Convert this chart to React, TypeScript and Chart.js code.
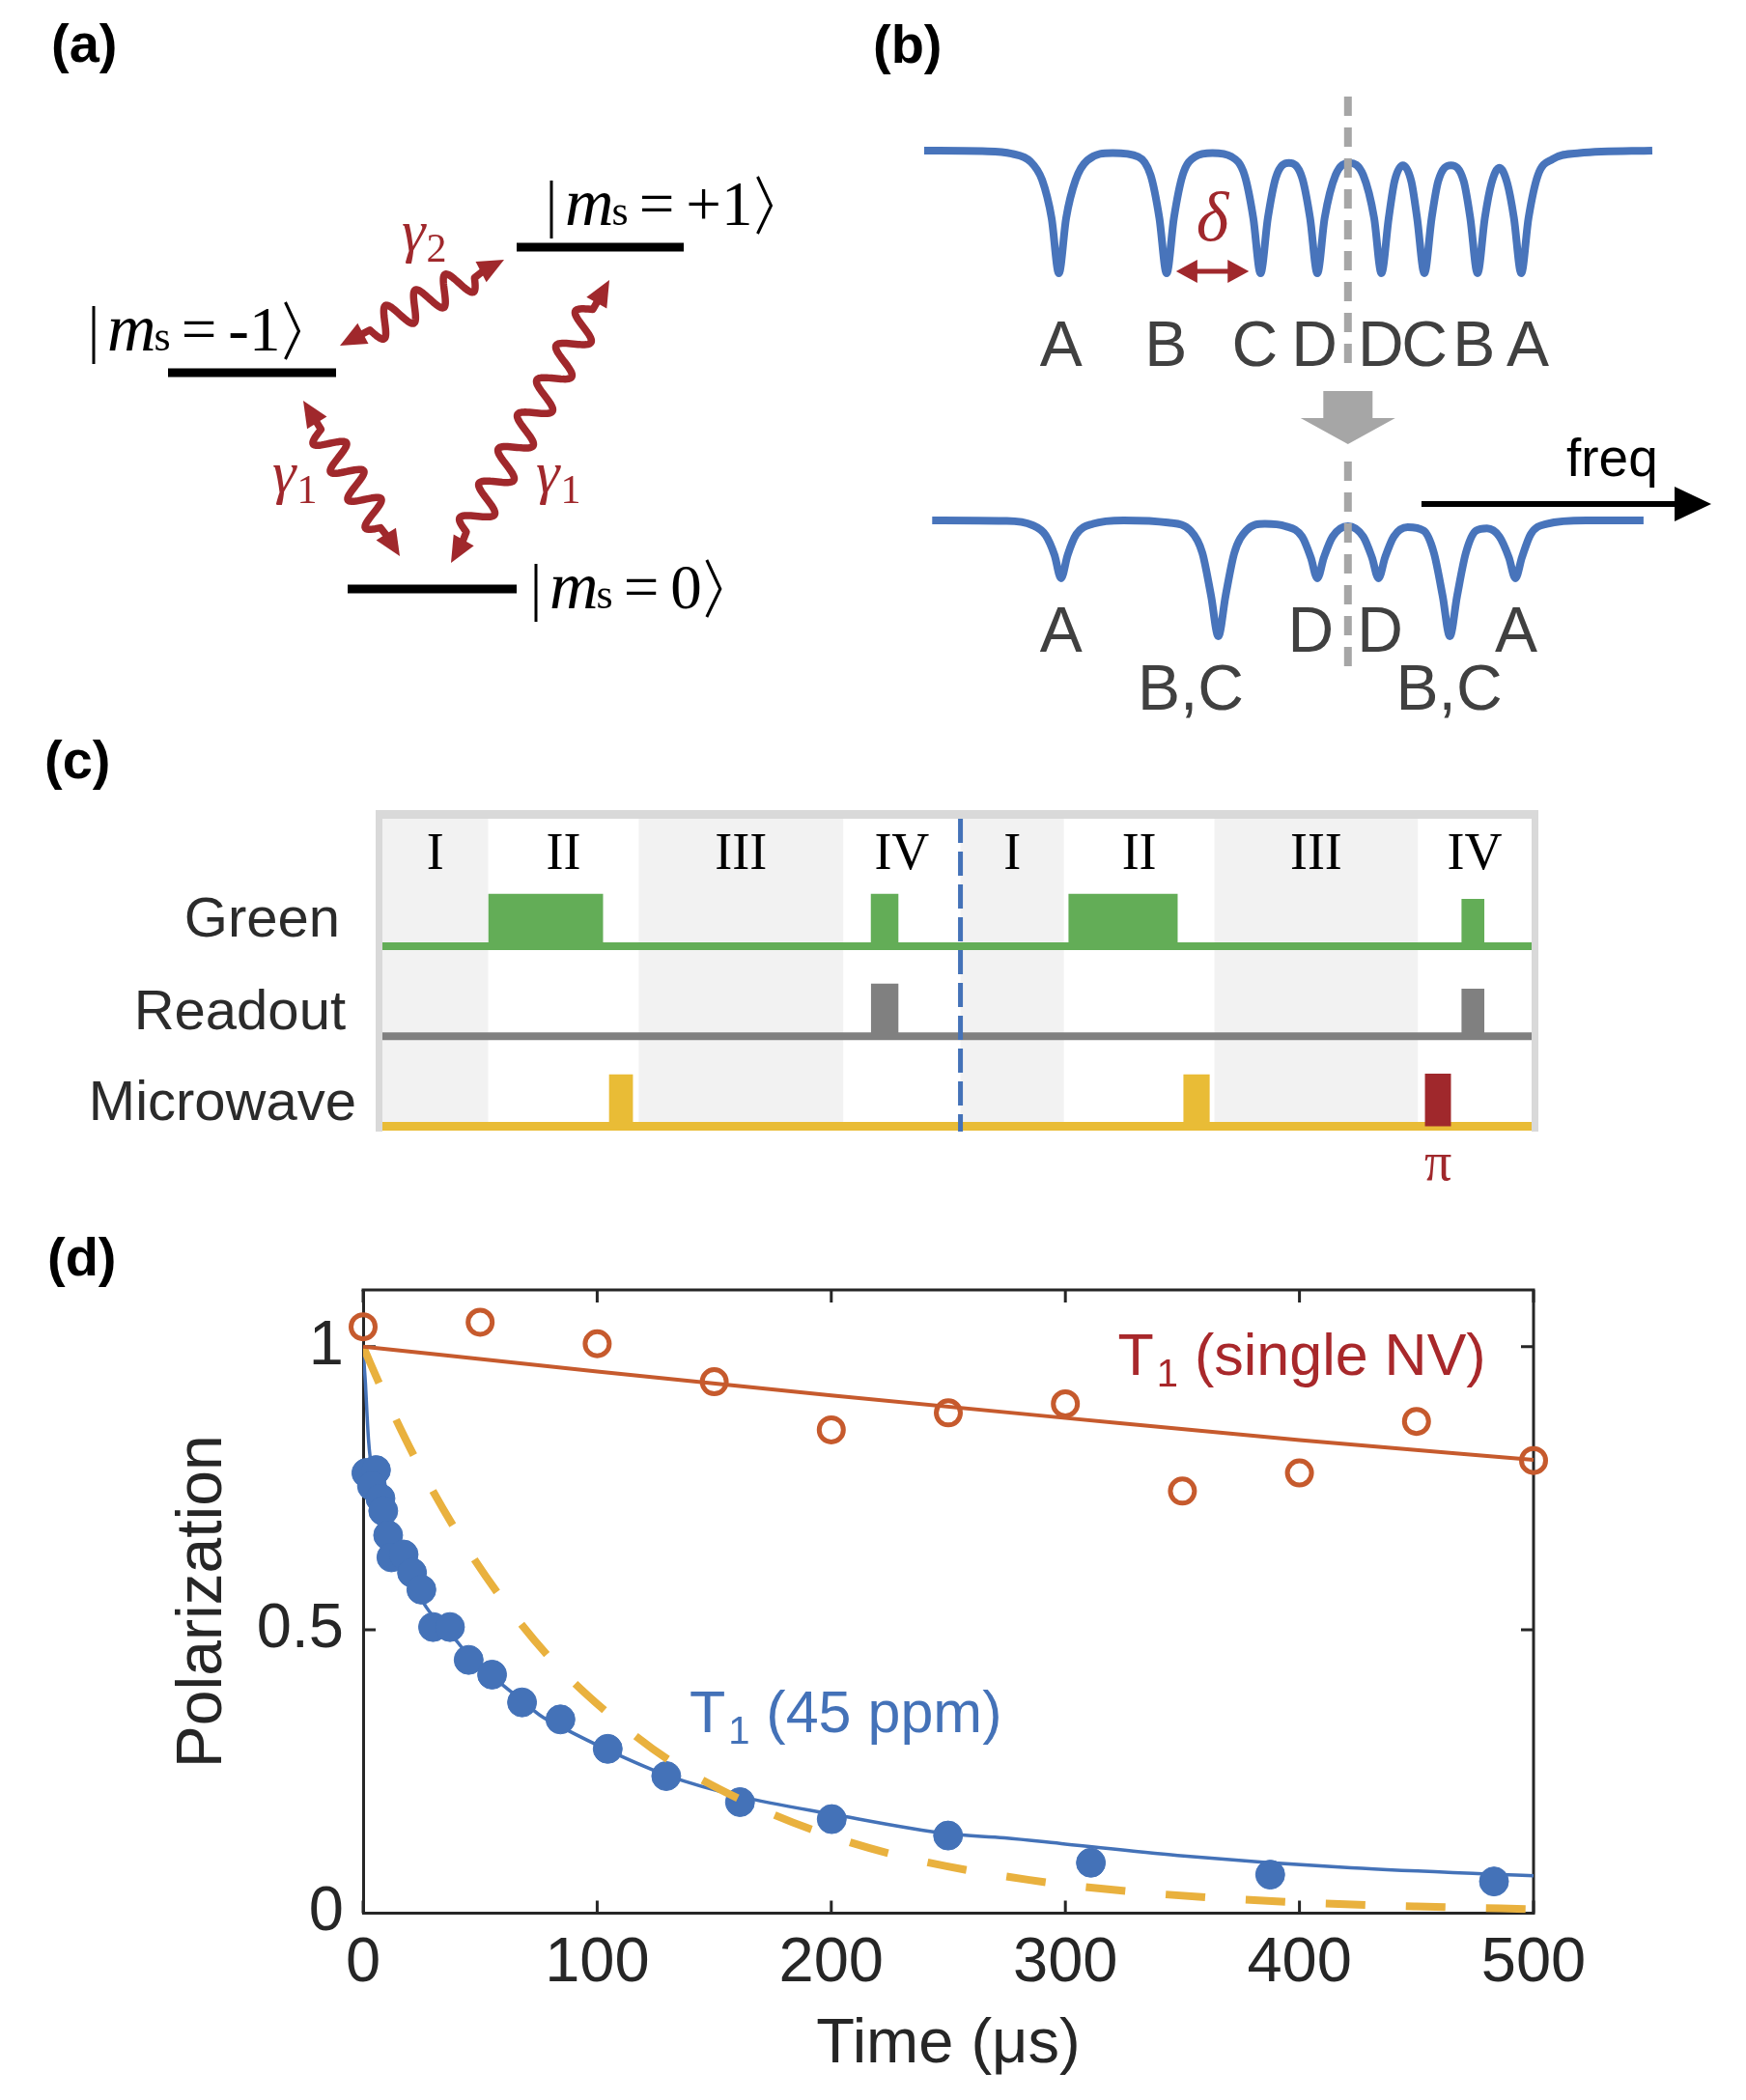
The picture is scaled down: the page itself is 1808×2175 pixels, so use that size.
import React, { useEffect, useRef } from 'react';
import { Chart, registerables } from 'chart.js';

Chart.register(...registerables);

const SANS = '"Liberation Sans", Arial, Helvetica, sans-serif';
const SERIF = '"Liberation Serif", "Times New Roman", Times, serif';

const BLUE = '#4472b8';
const TRACE_BLUE = '#4874bb';
const RED_MARK = '#c65a2d';
const RED_TEXT = '#a8282b';
const DARK_RED = '#a0282c';
const ORANGE = '#e9b13e';
const AXIS = '#262626';
const GREEN = '#63ad57';
const GREY_PULSE = '#808080';
const YELLOW = '#e9bc36';
const LIGHT_BAND = '#f2f2f2';
const FRAME = '#d9d9d9';
const ARROW_GREY = '#a6a6a6';
const LABEL_GREY = '#404040';

// ---------------- Panel (a): energy levels ----------------
const levelNames = ['-1', '+1', '0'];
const levelEnergy = [2.24, 3.54, 0];
const levelStart = [1.74, 5.35, 3.6];
const levelEnd = [3.48, 7.08, 5.35];
const transitionSub = ['2', '1', '1'];
const transStartX = [3.52, 3.14, 6.31];
const transStartE = [2.52, 1.95, 3.2];
const transEndX = [5.22, 4.14, 4.67];
const transEndE = [3.41, 0.34, 0.27];
const transWaves = [3.5, 3.5, 6.5];

// ---------------- Panel (b): spectra ----------------
const topTrace = [
  [0, 1.0], [8, 0.995], [12, 0.975], [14.6, 0.91], [16.2, 0.76], [17.5, 0.45], [18.5, 0.0], [19.5, 0.45], [20.8, 0.76], [22.4, 0.92],
  [25.9, 0.98], [29.4, 0.95], [31.1, 0.8], [32.3, 0.45], [33.3, 0.0], [34.3, 0.45], [35.5, 0.8], [37.2, 0.95], [39.6, 0.98],
  [42.2, 0.95], [44.0, 0.8], [45.2, 0.45], [46.2, 0.0], [47.2, 0.45], [48.3, 0.78], [50.1, 0.9], [51.9, 0.78], [53.0, 0.45],
  [54.0, 0.0], [55.0, 0.45], [56.5, 0.8], [58.4, 0.9], [60.3, 0.8], [61.8, 0.45], [62.8, 0.0], [63.8, 0.45], [64.6, 0.75],
  [65.75, 0.88], [66.9, 0.75], [67.7, 0.45], [68.7, 0.0], [69.7, 0.45], [70.6, 0.75], [72.35, 0.88], [74.1, 0.75], [75.0, 0.45],
  [76.0, 0.0], [77.0, 0.45], [77.9, 0.73], [79.0, 0.86], [80.1, 0.73], [81.0, 0.45], [82.0, 0.0], [83.0, 0.45], [84.3, 0.8],
  [86.3, 0.93], [90, 0.98], [100, 1.0],
];
const bottomTrace = [
  [1.1, 1.0], [11, 0.995], [14.8, 0.96], [16.7, 0.87], [17.9, 0.7], [18.8, 0.5], [19.7, 0.7], [20.9, 0.88], [23.2, 0.97],
  [27.4, 1.0], [33.5, 0.98], [36.6, 0.91], [38.2, 0.72], [39.4, 0.35], [40.4, 0.0], [41.4, 0.35], [42.6, 0.72], [44.2, 0.91],
  [46.8, 0.97], [49.6, 0.95], [51.9, 0.86], [53.1, 0.68], [54.0, 0.5], [54.9, 0.68], [56.1, 0.86], [58.2, 0.95], [60.3, 0.86],
  [61.5, 0.68], [62.4, 0.5], [63.3, 0.68], [64.5, 0.86], [66.4, 0.94], [68.6, 0.91], [70.0, 0.72], [71.2, 0.35], [72.2, 0.0],
  [73.2, 0.35], [74.4, 0.72], [75.8, 0.91], [77.3, 0.93], [79.0, 0.86], [80.3, 0.68], [81.2, 0.5], [82.1, 0.68], [83.3, 0.88],
  [85.5, 0.97], [90.9, 1.0], [98.8, 1.0],
];
const topLabels = ['A', 'B', 'C', 'D', 'D', 'C', 'B', 'A'];
const topLabelFreq = [18.8, 33.2, 45.4, 53.6, 62.7, 68.7, 75.5, 82.9];
const bottomLabels = ['A', 'B,C', 'D', 'D', 'B,C', 'A'];
const bottomLabelFreq = [18.8, 36.6, 53.1, 62.6, 72.1, 81.3];
const bottomLabelRow = [0, 1, 0, 0, 1, 0];
const centerFreq = 58.2;
const deltaFrom = 34.6;
const deltaTo = 44.6;

// ---------------- Panel (c): pulse sequence ----------------
const phaseEdges = [0, 9.2, 22.3, 40.1, 50.3, 59.3, 72.4, 90.1, 100];
const phaseNames = ['I', 'II', 'III', 'IV', 'I', 'II', 'III', 'IV'];
const channelNames = ['Green', 'Readout', 'Microwave'];
const channelBase = [59.1, 30.3, 1.4];
const greenPulseStart = [9.2, 42.5, 59.7, 93.9];
const greenPulseEnd = [19.2, 44.9, 69.2, 95.9];
const greenPulseTop = [75.9, 75.9, 75.9, 74.3];
const readoutPulseStart = [42.5, 93.9];
const readoutPulseEnd = [44.9, 95.9];
const readoutPulseTop = [47.1, 45.5];
const mwPulseStart = [19.7, 69.7];
const mwPulseEnd = [21.8, 72.0];
const mwPulseTop = [18.0, 18.0];
const piPulseStart = [90.7];
const piPulseEnd = [93.0];
const piPulseTop = [18.3];
const sequenceSplit = 50.3;

// ---------------- Panel (d): T1 relaxation ----------------
const singleNvTime = [0, 50, 100, 150, 200, 250, 300, 350, 400, 450, 500];
const singleNvPol = [1.035, 1.043, 1.005, 0.938, 0.853, 0.883, 0.899, 0.745, 0.777, 0.868, 0.799];
const singleNvFitTime = [0, 100, 200, 300, 400, 500];
const singleNvFitPol = [1.0, 0.956, 0.914, 0.874, 0.835, 0.8];
const ensembleTime = [1.4, 5.5, 3.8, 7.4, 8.6, 10.7, 12.1, 17.3, 20.9, 24.9, 29.9, 37.1, 45.1, 55.1, 67.9, 84.3, 104.5, 129.5, 161.0, 200.2, 249.9, 310.9, 387.5, 483.1];
const ensemblePol = [0.777, 0.782, 0.754, 0.732, 0.71, 0.667, 0.628, 0.633, 0.601, 0.571, 0.505, 0.505, 0.447, 0.421, 0.372, 0.342, 0.29, 0.242, 0.196, 0.166, 0.137, 0.089, 0.068, 0.056];
const ensembleFitTime = [0, 0.5, 1.0, 1.65, 2.3, 3.0, 4.5, 7, 10, 13, 17, 21, 27, 33, 39, 45, 52, 59, 68, 76, 84, 105, 130, 161, 200, 250, 274, 300, 348, 422, 500];
const ensembleFitPol = [1.0, 0.965, 0.935, 0.882, 0.836, 0.805, 0.77, 0.73, 0.69, 0.652, 0.615, 0.585, 0.54, 0.51, 0.485, 0.455, 0.43, 0.405, 0.375, 0.348, 0.33, 0.287, 0.243, 0.206, 0.175, 0.14, 0.133, 0.122, 0.102, 0.08, 0.066];
const expectedTime = [0, 8, 22, 39, 58, 79, 104, 130, 161, 192, 230, 284, 340, 400, 450, 500];
const expectedPol = [1.0, 0.925, 0.805, 0.68, 0.562, 0.454, 0.355, 0.272, 0.201, 0.147, 0.1, 0.059, 0.034, 0.019, 0.012, 0.007];
const xTickStep = 100;
const yTickValues = [0, 0.5, 1];

const zip = (xs: number[], ys: number[]) => xs.map((x, i) => ({ x, y: ys[i] }));
const pairs = (arr: number[][]) => arr.map(([x, y]) => ({ x, y }));
const pulsePath = (starts: number[], ends: number[], tops: number[], base: number) => {
  const pts: { x: number; y: number }[] = [];
  starts.forEach((s, i) => {
    pts.push({ x: s, y: base }, { x: s, y: tops[i] }, { x: ends[i], y: tops[i] }, { x: ends[i], y: base });
  });
  return pts;
};

const baseOptions = {
  animation: false,
  responsive: false,
  maintainAspectRatio: false,
  events: [],
  plugins: { legend: { display: false }, tooltip: { enabled: false } },
};

function panelLetter(ctx: CanvasRenderingContext2D, text: string, x: number, y: number) {
  ctx.save();
  ctx.fillStyle = '#000';
  ctx.font = `bold 56px ${SANS}`;
  ctx.textAlign = 'left';
  ctx.textBaseline = 'alphabetic';
  ctx.fillText(text, x, y);
  ctx.restore();
}

// ---------- Panel (a) helpers ----------
function drawKet(ctx: CanvasRenderingContext2D, x: number, base: number, val: string) {
  ctx.strokeStyle = '#000';
  ctx.fillStyle = '#000';
  ctx.lineWidth = 3;
  ctx.lineCap = 'butt';
  ctx.beginPath();
  ctx.moveTo(x, base - 46);
  ctx.lineTo(x, base + 14);
  ctx.stroke();
  let cx = x + 14;
  ctx.textAlign = 'left';
  ctx.textBaseline = 'alphabetic';
  ctx.font = `italic 70px ${SERIF}`;
  ctx.fillText('m', cx, base);
  cx += ctx.measureText('m').width - 2;
  ctx.font = `44px ${SERIF}`;
  ctx.fillText('s', cx, base);
  cx += ctx.measureText('s').width + 11;
  ctx.font = `65px ${SERIF}`;
  ctx.fillText('=', cx, base);
  cx += ctx.measureText('=').width + 12;
  ctx.fillText(val, cx, base);
  cx += ctx.measureText(val).width + 5;
  ctx.lineJoin = 'miter';
  ctx.beginPath();
  ctx.moveTo(cx, base - 50);
  ctx.lineTo(cx + 14, base - 20);
  ctx.lineTo(cx, base + 9);
  ctx.stroke();
}

function drawWavy(ctx: CanvasRenderingContext2D, x1: number, y1: number, x2: number, y2: number, waves: number) {
  const dx = x2 - x1, dy = y2 - y1;
  const L = Math.hypot(dx, dy);
  const ux = dx / L, uy = dy / L, nx = -uy, ny = ux;
  const head = 27, lead = 8, amp = 15, hw = 12;
  const w0 = head + lead;
  const W = L - 2 * (head + lead);
  ctx.strokeStyle = DARK_RED;
  ctx.fillStyle = DARK_RED;
  ctx.lineWidth = 7.5;
  ctx.lineJoin = 'round';
  ctx.lineCap = 'butt';
  ctx.beginPath();
  ctx.moveTo(x1 + ux * (head - 4), y1 + uy * (head - 4));
  ctx.lineTo(x1 + ux * w0, y1 + uy * w0);
  for (let d = 0; d <= W; d += 1) {
    const off = amp * Math.sin((2 * Math.PI * waves * d) / W);
    ctx.lineTo(x1 + ux * (w0 + d) + nx * off, y1 + uy * (w0 + d) + ny * off);
  }
  ctx.lineTo(x2 - ux * (head - 4), y2 - uy * (head - 4));
  ctx.stroke();
  const headAt = (tx: number, ty: number, dx2: number, dy2: number) => {
    ctx.beginPath();
    ctx.moveTo(tx, ty);
    ctx.lineTo(tx - dx2 * head - dy2 * hw, ty - dy2 * head + dx2 * hw);
    ctx.lineTo(tx - dx2 * head + dy2 * hw, ty - dy2 * head - dx2 * hw);
    ctx.closePath();
    ctx.fill();
  };
  headAt(x1, y1, -ux, -uy);
  headAt(x2, y2, ux, uy);
}

const ketAnchorX = [0.97, 5.71, 5.55];
const ketAnchorE = [2.47, 3.77, -0.2];
const gammaAnchorX = [4.16, 2.82, 5.55];
const gammaAnchorE = [3.5, 1.0, 1.0];

const panelAPlugin = {
  id: 'panelA',
  afterDatasetsDraw(chart: any) {
    const { ctx } = chart;
    const xs = chart.scales.x, ys = chart.scales.y;
    ctx.save();
    panelLetter(ctx, '(a)', 53, 64);
    levelNames.forEach((n, i) => drawKet(ctx, xs.getPixelForValue(ketAnchorX[i]), ys.getPixelForValue(ketAnchorE[i]), n));
    transStartX.forEach((_, i) => {
      drawWavy(ctx, xs.getPixelForValue(transStartX[i]), ys.getPixelForValue(transStartE[i]),
        xs.getPixelForValue(transEndX[i]), ys.getPixelForValue(transEndE[i]), transWaves[i]);
    });
    transitionSub.forEach((s, i) => {
      const gx = xs.getPixelForValue(gammaAnchorX[i]);
      const gy = ys.getPixelForValue(gammaAnchorE[i]);
      ctx.fillStyle = DARK_RED;
      ctx.textAlign = 'left';
      ctx.textBaseline = 'alphabetic';
      ctx.font = `italic 62px ${SERIF}`;
      ctx.fillText('γ', gx, gy);
      const w = ctx.measureText('γ').width;
      ctx.font = `42px ${SERIF}`;
      ctx.fillText(s, gx + w + 1, gy + 11);
    });
    ctx.restore();
  },
};

function buildA() {
  const datasets = levelNames.map((n, i) => ({
    label: n,
    data: [{ x: levelStart[i], y: levelEnergy[i] }, { x: levelEnd[i], y: levelEnergy[i] }],
    borderColor: '#000',
    borderWidth: 9,
    borderCapStyle: 'butt',
    pointRadius: 0,
  }));
  return {
    type: 'line',
    data: { datasets },
    options: {
      ...baseOptions,
      layout: { padding: 0, autoPadding: false },
      scales: {
        x: { type: 'linear', min: 0, max: 9.04, display: false },
        y: { type: 'linear', min: -0.9, max: 6.1, display: false },
      },
    },
    plugins: [panelAPlugin],
  };
}

// ---------- Panel (b) ----------
const panelBPlugin = {
  id: 'panelB',
  afterDatasetsDraw(chart: any) {
    const { ctx } = chart;
    const xs = chart.scales.x, y1 = chart.scales.y1, y2 = chart.scales.y2;
    ctx.save();
    panelLetter(ctx, '(b)', 24, 65);
    const cx = xs.getPixelForValue(centerFreq);
    ctx.strokeStyle = ARROW_GREY;
    ctx.lineWidth = 8;
    ctx.setLineDash([20, 12]);
    ctx.beginPath();
    ctx.moveTo(cx, 100); ctx.lineTo(cx, 386);
    ctx.moveTo(cx, 478); ctx.lineTo(cx, 697);
    ctx.stroke();
    ctx.setLineDash([]);
    ctx.fillStyle = ARROW_GREY;
    ctx.beginPath();
    ctx.moveTo(cx - 25.5, 405); ctx.lineTo(cx + 25.5, 405); ctx.lineTo(cx + 25.5, 433); ctx.lineTo(cx + 49, 433);
    ctx.lineTo(cx, 460); ctx.lineTo(cx - 49, 433); ctx.lineTo(cx - 25.5, 433); ctx.closePath();
    ctx.fill();
    ctx.fillStyle = LABEL_GREY;
    ctx.font = `66px ${SANS}`;
    ctx.textAlign = 'center';
    ctx.textBaseline = 'alphabetic';
    topLabels.forEach((t, i) => ctx.fillText(t, xs.getPixelForValue(topLabelFreq[i]), y1.getPixelForValue(-0.756)));
    bottomLabels.forEach((t, i) => {
      const yy = bottomLabelRow[i] === 0 ? y2.getPixelForValue(-0.133) : y2.getPixelForValue(-0.633);
      ctx.fillText(t, xs.getPixelForValue(bottomLabelFreq[i]), yy);
    });
    ctx.fillStyle = DARK_RED;
    ctx.font = `italic 72px ${SERIF}`;
    ctx.fillText('δ', xs.getPixelForValue((deltaFrom + deltaTo) / 2), y1.getPixelForValue(0.268));
    const ya = y1.getPixelForValue(0.016);
    const xa = xs.getPixelForValue(deltaFrom), xb = xs.getPixelForValue(deltaTo);
    ctx.strokeStyle = DARK_RED;
    ctx.lineWidth = 5;
    ctx.beginPath(); ctx.moveTo(xa + 15, ya); ctx.lineTo(xb - 15, ya); ctx.stroke();
    ctx.beginPath(); ctx.moveTo(xa, ya); ctx.lineTo(xa + 22, ya - 12); ctx.lineTo(xa + 22, ya + 12); ctx.closePath(); ctx.fill();
    ctx.beginPath(); ctx.moveTo(xb, ya); ctx.lineTo(xb - 22, ya - 12); ctx.lineTo(xb - 22, ya + 12); ctx.closePath(); ctx.fill();
    ctx.fillStyle = '#000';
    ctx.textAlign = 'left';
    ctx.font = `55px ${SANS}`;
    ctx.fillText('freq', xs.getPixelForValue(88.2), 493);
    const fx0 = xs.getPixelForValue(68.3), fx1 = xs.getPixelForValue(108.1);
    ctx.strokeStyle = '#000';
    ctx.lineWidth = 6;
    ctx.beginPath(); ctx.moveTo(fx0, 522); ctx.lineTo(fx1 - 30, 522); ctx.stroke();
    ctx.beginPath(); ctx.moveTo(fx1, 522); ctx.lineTo(fx1 - 38, 504); ctx.lineTo(fx1 - 38, 540); ctx.closePath(); ctx.fill();
    ctx.restore();
  },
};

function buildB() {
  const common = { borderColor: TRACE_BLUE, borderWidth: 8, pointRadius: 0, cubicInterpolationMode: 'monotone', borderJoinStyle: 'round', borderCapStyle: 'butt' };
  return {
    type: 'line',
    data: {
      datasets: [
        { label: 'before', data: pairs(topTrace), yAxisID: 'y1', ...common },
        { label: 'after', data: pairs(bottomTrace), yAxisID: 'y2', ...common },
      ],
    },
    options: {
      ...baseOptions,
      layout: { padding: 0, autoPadding: false },
      scales: {
        x: { type: 'linear', min: -10.21, max: 112.87, display: false },
        y1: { type: 'linear', position: 'left', min: -3.756, max: 2.228, display: false },
        y2: { type: 'linear', position: 'left', min: -0.842, max: 5.49, display: false },
      },
    },
    plugins: [panelBPlugin],
  };
}

// ---------- Panel (c) ----------
const channelLabelRight = [352, 358, 369];
const channelLabelLift = [10, 7, 6];

const panelCPlugin = {
  id: 'panelC',
  beforeDatasetsDraw(chart: any) {
    const { ctx, chartArea: a } = chart;
    const xs = chart.scales.x;
    ctx.save();
    ctx.fillStyle = LIGHT_BAND;
    phaseNames.forEach((_, i) => {
      if (i % 2 === 0) {
        const x0 = xs.getPixelForValue(phaseEdges[i]);
        const x1 = xs.getPixelForValue(phaseEdges[i + 1]);
        ctx.fillRect(x0, a.top, x1 - x0, a.bottom - a.top);
      }
    });
    ctx.fillStyle = FRAME;
    ctx.fillRect(a.left - 7, a.top - 9, a.right - a.left + 14, 9);
    ctx.fillRect(a.left - 7, a.top - 9, 7, a.bottom - a.top + 10);
    ctx.fillRect(a.right, a.top - 9, 7, a.bottom - a.top + 10);
    ctx.restore();
  },
  afterDatasetsDraw(chart: any) {
    const { ctx, chartArea: a } = chart;
    const xs = chart.scales.x, ys = chart.scales.y;
    ctx.save();
    panelLetter(ctx, '(c)', 46, 46);
    const sx = xs.getPixelForValue(sequenceSplit);
    ctx.strokeStyle = BLUE;
    ctx.lineWidth = 5;
    ctx.setLineDash([25, 9]);
    ctx.beginPath(); ctx.moveTo(sx, a.top); ctx.lineTo(sx, a.bottom + 1); ctx.stroke();
    ctx.setLineDash([]);
    ctx.fillStyle = '#000';
    ctx.font = `54px ${SERIF}`;
    ctx.textAlign = 'center';
    ctx.textBaseline = 'alphabetic';
    phaseNames.forEach((n, i) => {
      const mid = (phaseEdges[i] + phaseEdges[i + 1]) / 2;
      ctx.fillText(n, xs.getPixelForValue(mid), a.top + 52);
    });
    ctx.fillStyle = '#2b2b2b';
    ctx.font = `58px ${SANS}`;
    ctx.textAlign = 'right';
    channelNames.forEach((n, i) => ctx.fillText(n, channelLabelRight[i], ys.getPixelForValue(channelBase[i]) - channelLabelLift[i]));
    ctx.fillStyle = DARK_RED;
    ctx.font = `56px ${SERIF}`;
    ctx.textAlign = 'center';
    ctx.fillText('π', xs.getPixelForValue((piPulseStart[0] + piPulseEnd[0]) / 2), a.bottom + 51);
    ctx.restore();
  },
};

function buildC() {
  const baseLine = (v: number, color: string, w: number) => ({
    data: [{ x: 0, y: v }, { x: 100, y: v }], borderColor: color, borderWidth: w, pointRadius: 0, borderCapStyle: 'butt',
  });
  const pulses = (pts: any[], color: string, base: number) => ({
    data: pts, borderColor: 'rgba(0,0,0,0)', borderWidth: 0, backgroundColor: color, fill: { value: base }, pointRadius: 0,
  });
  return {
    type: 'line',
    data: {
      datasets: [
        pulses(pulsePath(piPulseStart, piPulseEnd, piPulseTop, channelBase[2]), DARK_RED, channelBase[2]),
        pulses(pulsePath(mwPulseStart, mwPulseEnd, mwPulseTop, channelBase[2]), YELLOW, channelBase[2]),
        pulses(pulsePath(readoutPulseStart, readoutPulseEnd, readoutPulseTop, channelBase[1]), GREY_PULSE, channelBase[1]),
        pulses(pulsePath(greenPulseStart, greenPulseEnd, greenPulseTop, channelBase[0]), GREEN, channelBase[0]),
        baseLine(channelBase[2], YELLOW, 9),
        baseLine(channelBase[1], GREY_PULSE, 8),
        baseLine(channelBase[0], GREEN, 8),
      ],
    },
    options: {
      ...baseOptions,
      layout: { padding: { left: 396, right: 222, top: 88, bottom: 69 }, autoPadding: false },
      scales: {
        x: { type: 'linear', min: 0, max: 100, display: false },
        y: { type: 'linear', min: 0, max: 100, display: false },
      },
    },
    plugins: [panelCPlugin],
  };
}

// ---------- Panel (d) ----------
const panelDPlugin = {
  id: 'panelD',
  beforeDatasetsDraw(chart: any) {
    const { ctx, chartArea: a } = chart;
    const xs = chart.scales.x, ys = chart.scales.y;
    ctx.save();
    ctx.strokeStyle = AXIS;
    ctx.lineWidth = 3;
    ctx.lineCap = 'butt';
    ctx.beginPath();
    ctx.moveTo(a.left - 1.5, a.top); ctx.lineTo(a.right, a.top); ctx.lineTo(a.right, a.bottom + 1.5);
    ctx.stroke();
    const tl = 13;
    ctx.beginPath();
    xs.ticks.forEach((t: any) => {
      const p = xs.getPixelForValue(t.value);
      ctx.moveTo(p, a.bottom); ctx.lineTo(p, a.bottom - tl);
      ctx.moveTo(p, a.top); ctx.lineTo(p, a.top + tl);
    });
    ys.ticks.forEach((t: any) => {
      const p = ys.getPixelForValue(t.value);
      ctx.moveTo(a.left, p); ctx.lineTo(a.left + tl, p);
      ctx.moveTo(a.right, p); ctx.lineTo(a.right - tl, p);
    });
    ctx.stroke();
    ctx.restore();
  },
  afterDatasetsDraw(chart: any) {
    const { ctx } = chart;
    const xs = chart.scales.x, ys = chart.scales.y;
    ctx.save();
    panelLetter(ctx, '(d)', 49, 71);
    const drawT1 = (xv: number, yv: number, rest: string, color: string) => {
      let px = xs.getPixelForValue(xv);
      const py = ys.getPixelForValue(yv);
      ctx.fillStyle = color;
      ctx.textAlign = 'left';
      ctx.textBaseline = 'alphabetic';
      ctx.font = `61px ${SANS}`;
      ctx.fillText('T', px, py);
      px += ctx.measureText('T').width + 3;
      ctx.font = `40px ${SANS}`;
      ctx.fillText('1', px, py + 12);
      px += ctx.measureText('1').width;
      ctx.font = `61px ${SANS}`;
      ctx.fillText(' ' + rest, px, py);
    };
    drawT1(322.4, 0.95, '(single NV)', RED_TEXT);
    drawT1(139.4, 0.32, '(45 ppm)', BLUE);
    ctx.restore();
  },
};

function buildD() {
  return {
    type: 'scatter',
    data: {
      datasets: [
        {
          label: 'single NV', data: zip(singleNvTime, singleNvPol), showLine: false,
          pointRadius: 12.5, pointBorderWidth: 5, pointBorderColor: RED_MARK, pointBackgroundColor: 'rgba(255,255,255,0)', clip: false,
        },
        {
          label: 'single NV fit', data: zip(singleNvFitTime, singleNvFitPol), showLine: true,
          borderColor: RED_MARK, borderWidth: 4, pointRadius: 0, cubicInterpolationMode: 'monotone', clip: false,
        },
        {
          label: 'expected', data: zip(expectedTime, expectedPol), showLine: true,
          borderColor: ORANGE, borderWidth: 8, borderDash: [41, 42], borderCapStyle: 'butt', pointRadius: 0, cubicInterpolationMode: 'monotone',
        },
        {
          label: '45 ppm', data: zip(ensembleTime, ensemblePol), showLine: false,
          pointRadius: 15, pointBorderWidth: 1, pointBorderColor: BLUE, pointBackgroundColor: BLUE, clip: false,
        },
        {
          label: '45 ppm fit', data: zip(ensembleFitTime, ensembleFitPol), showLine: true,
          borderColor: BLUE, borderWidth: 3.5, pointRadius: 0, cubicInterpolationMode: 'monotone',
        },
      ],
    },
    options: {
      ...baseOptions,
      layout: { padding: { left: 0, right: 220, top: 86, bottom: 0 }, autoPadding: false },
      scales: {
        x: {
          type: 'linear', min: 0, max: 500,
          ticks: { stepSize: xTickStep, font: { family: SANS, size: 65, lineHeight: 1.2 }, color: AXIS, padding: 14, maxRotation: 0 },
          grid: { display: false, drawTicks: false },
          border: { display: true, color: AXIS, width: 3 },
          title: { display: true, text: 'Time (μs)', font: { family: SANS, size: 65, lineHeight: 1.2 }, color: AXIS, padding: { top: 0, bottom: 18 } },
          afterFit: (s: any) => { s.height = 193.5; },
        },
        y: {
          type: 'linear', min: 0, max: 1.1,
          afterBuildTicks: (s: any) => { s.ticks = yTickValues.map((v) => ({ value: v })); },
          ticks: { font: { family: SANS, size: 65 }, color: AXIS, padding: 20, callback: (v: any) => String(v) },
          grid: { display: false, drawTicks: false },
          border: { display: true, color: AXIS, width: 3 },
          title: { display: true, text: 'Polarization', font: { family: SANS, size: 66, lineHeight: 1.2 }, color: AXIS, padding: { top: 171, bottom: 0 } },
          afterFit: (s: any) => { s.width = 376; },
        },
      },
    },
    plugins: [panelDPlugin],
  };
}

type PanelProps = { left: number; top: number; width: number; height: number; build: () => any };

function Panel({ left, top, width, height, build }: PanelProps) {
  const ref = useRef<HTMLCanvasElement | null>(null);
  useEffect(() => {
    if (!ref.current) return;
    const chart = new Chart(ref.current, build());
    return () => chart.destroy();
  }, []);
  return (
    <canvas
      ref={ref}
      width={width}
      height={height}
      style={{ position: 'absolute', left, top, width, height, display: 'block' }}
    />
  );
}

export default function App() {
  return (
    <div style={{ position: 'absolute', left: 0, top: 0, width: 1808, height: 2175, background: '#fff', overflow: 'hidden' }}>
      <Panel left={0} top={0} width={904} height={700} build={buildA} />
      <Panel left={880} top={0} width={928} height={760} build={buildB} />
      <Panel left={0} top={760} width={1808} height={480} build={buildC} />
      <Panel left={0} top={1250} width={1808} height={925} build={buildD} />
    </div>
  );
}
